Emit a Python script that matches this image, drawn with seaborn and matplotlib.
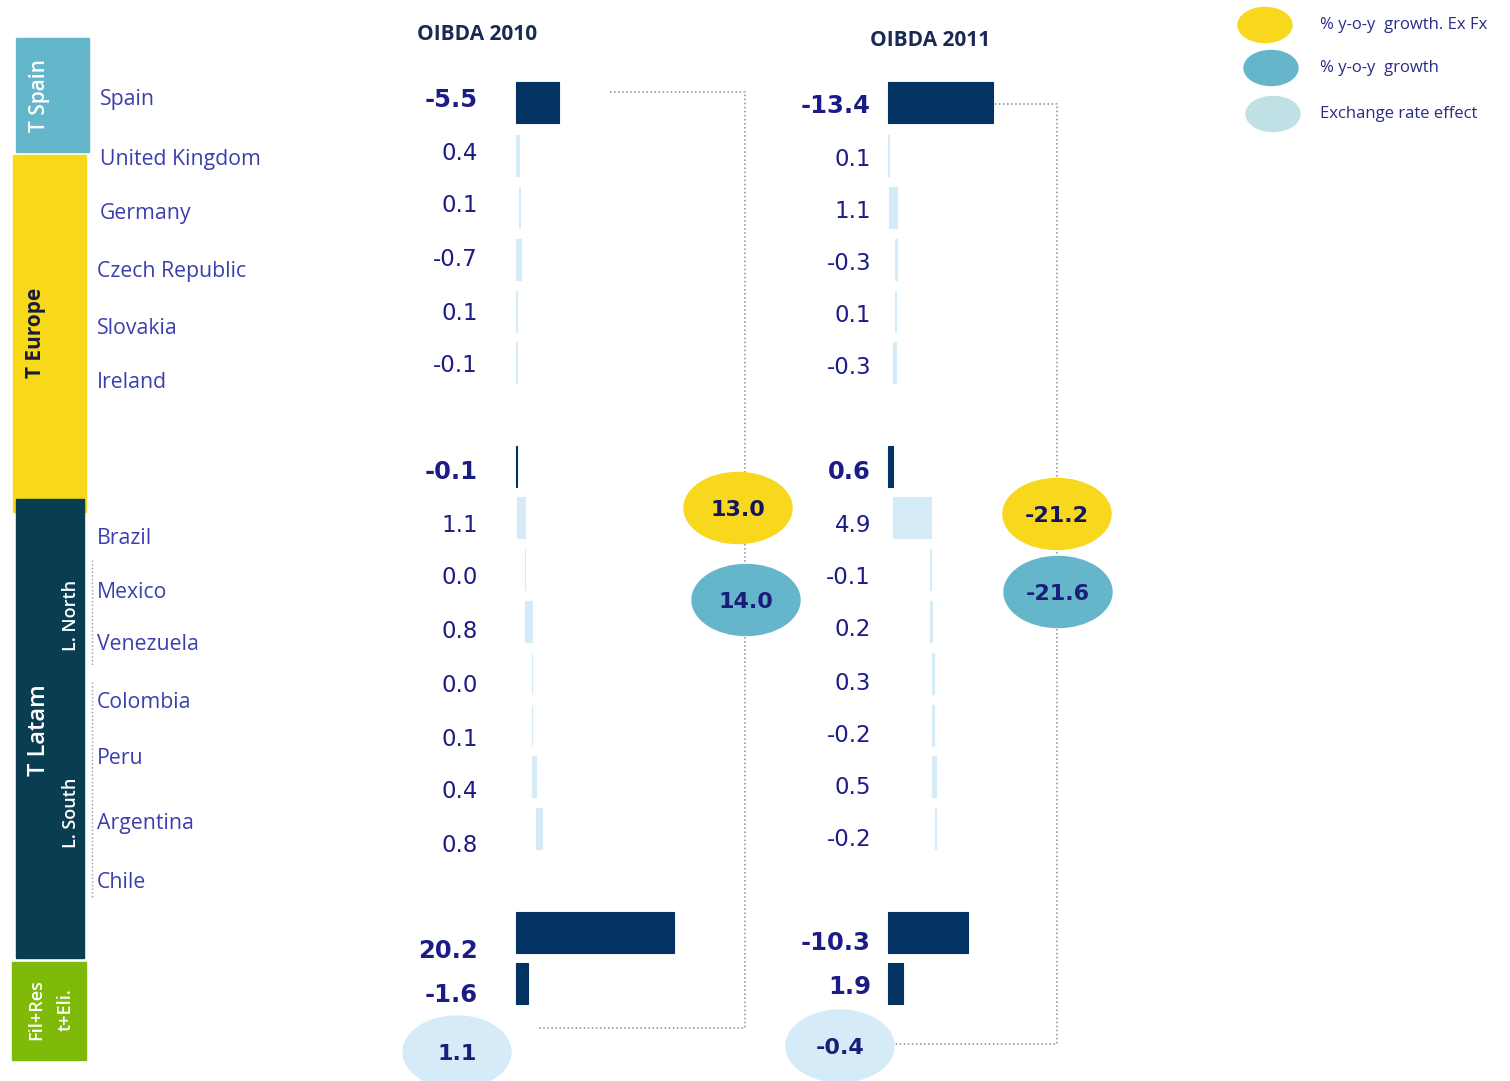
import seaborn as sns
import matplotlib.pyplot as plt
from matplotlib.patches import Ellipse, Rectangle

# --- data ---
rows = ['Spain', 'United Kingdom', 'Germany', 'Czech Republic', 'Slovakia', 'Ireland',
        'T Europe', 'Brazil', 'Mexico', 'Venezuela', 'Colombia', 'Peru', 'Argentina',
        'Chile', 'T Latam', 'Fil+Res t+Eli.']
kind = ['total', 'fx', 'fx', 'fx', 'fx', 'fx',
        'total', 'fx', 'fx', 'fx', 'fx', 'fx', 'fx',
        'fx', 'total', 'total']
oibda_2010 = [-5.5, 0.4, 0.1, -0.7, 0.1, -0.1, -0.1, 1.1, 0.0, 0.8, 0.0, 0.1, 0.4, 0.8, 20.2, -1.6]
oibda_2011 = [-13.4, 0.1, 1.1, -0.3, 0.1, -0.3, 0.6, 4.9, -0.1, 0.2, 0.3, -0.2, 0.5, -0.2, -10.3, 1.9]
years = ['OIBDA 2010', 'OIBDA 2011']
growth_exfx = [13.0, -21.2]
growth = [14.0, -21.6]
fx_effect = [1.1, -0.4]
country_labels = ['Spain', 'United Kingdom', 'Germany', 'Czech Republic', 'Slovakia', 'Ireland',
                  'Brazil', 'Mexico', 'Venezuela', 'Colombia', 'Peru', 'Argentina', 'Chile']
legend_labels = ['% y-o-y  growth. Ex Fx', '% y-o-y  growth', 'Exchange rate effect']

# --- layout (pixels) ---
W, H = 1510, 1081
PX_PER_UNIT = 7.8
row_y = [102, 155, 207, 259, 311, 362, 466, 517, 569, 621, 673, 725, 776, 828, 932, 983]
bar_h = 41
text_y = [[100, 153, 206, 260, 313, 366, 472, 525, 578, 632, 685, 739, 792, 845, 951, 995],
          [106, 159, 211, 263, 316, 368, 472, 525, 577, 630, 683, 735, 787, 839, 943, 987]]
bar_x0 = [516, 888]
text_x = [478, 871]
header_pos = [(477, 34), (930, 41)]
label_x = [100, 100, 100, 97, 97, 97, 97, 97, 97, 97, 97, 97, 97]
label_y = [100, 159, 213, 272, 328, 383, 539, 592, 644, 702, 758, 824, 882]
yellow_pos = [(738, 508), (1057, 514)]
blue_pos = [(746, 600), (1058, 592)]
fx_pos = [(457, 1052), (840, 1046)]
bracket = [dict(x=745, top=92, start=610, bottom=1028, end=537),
           dict(x=1057, top=104, start=922, bottom=1044, end=888)]

NAVY = '#033263'
LIGHT = '#d6ebf8'
YELLOW = '#f8d81c'
TEAL = '#65b5cb'
FXLEG = '#bfe1e6'
TXT = '#1c1c86'
LBL = '#3b3fae'

sns.set_theme(style='white')
plt.rcParams['font.family'] = ['DejaVu Sans']

fig = plt.figure(figsize=(W / 100, H / 100), dpi=100)
ax = fig.add_axes([0, 0, 1, 1])
ax.set_xlim(0, W)
ax.set_ylim(H, 0)
ax.axis('off')

# --- left side bands ---
bands = [(16, 38, 73, 114, '#64b6ca'), (13, 155, 73, 357, '#f8d91a'),
         (16, 499, 68, 459, '#083d52'), (12, 962, 74, 98, '#7fba0a')]
for x, y, w, h, c in bands:
    ax.add_patch(Rectangle((x, y), w, h, color=c, zorder=1))
ax.text(39, 95, 'T Spain', rotation=90, ha='center', va='center', color='white',
        fontsize=15, family='Open Sans', fontweight='semibold')
ax.text(36, 333, 'T Europe', rotation=90, ha='center', va='center', color='#1b1b3a',
        fontsize=15, family='Open Sans', fontweight='bold')
ax.text(39, 730, 'T Latam', rotation=90, ha='center', va='center', color='white',
        fontsize=17, family='Open Sans', fontweight='semibold')
ax.text(71, 615, 'L. North', rotation=90, ha='center', va='center', color='white',
        fontsize=13, family='Open Sans', fontweight='semibold')
ax.text(71, 813, 'L. South', rotation=90, ha='center', va='center', color='white',
        fontsize=13, family='Open Sans', fontweight='semibold')
ax.text(36, 1010, 'Fil+Res', rotation=90, ha='center', va='center', color='white',
        fontsize=13, family='Open Sans', fontweight='semibold')
ax.text(66, 1010, 't+Eli.', rotation=90, ha='center', va='center', color='white',
        fontsize=13, family='Open Sans', fontweight='semibold')
ax.plot([92, 92], [560, 665], ls=':', color='#9a9a9a', lw=1)
ax.plot([92, 92], [682, 898], ls=':', color='#9a9a9a', lw=1)

for name, x, y in zip(country_labels, label_x, label_y):
    ax.text(x, y, name, ha='left', va='center', color=LBL, fontsize=15.3, family='Open Sans')

# --- bracket lines behind the growth bubbles ---
for b in bracket:
    ax.plot([b['start'], b['x'], b['x'], b['end']], [b['top'], b['top'], b['bottom'], b['bottom']],
            ls=':', color='#8c8c8c', lw=1.1, zorder=2)

# --- waterfall bars per year (fx effects stack from the previous total, floored at 0) ---
for i, vals in enumerate([oibda_2010, oibda_2011]):
    bax = fig.add_axes([(bar_x0[i] - 4) / W, 0, 244 / W, 1])
    bax.set_xlim(-4 / PX_PER_UNIT, 240 / PX_PER_UNIT)
    bax.set_ylim(H, 0)
    bax.axis('off')
    bax.patch.set_alpha(0)
    cum = 0.0
    for j, (v, k, y) in enumerate(zip(vals, kind, row_y)):
        if k == 'total':
            bax.barh(y, abs(v), left=0, height=bar_h, color=NAVY, edgecolor=NAVY, lw=0.8)
            cum = 0.0 if j == 0 else abs(v)
        else:
            left = max(cum + min(v, 0), 0)
            bax.barh(y, abs(v), left=left, height=bar_h, color=LIGHT, edgecolor=LIGHT, lw=0.8)
            cum += v
    for v, k, y in zip(vals, kind, text_y[i]):
        bold = k == 'total'
        ax.text(text_x[i], y, f'{v:.1f}', ha='right', va='center', color=TXT,
                fontsize=17.5 if bold else 16.5, fontweight='bold' if bold else 'normal')
    ax.text(*header_pos[i], years[i], ha='center', va='center', color='#1b2a55',
            fontsize=15, family='Open Sans', fontweight='bold')

    # growth bubbles
    ax.add_patch(Ellipse(yellow_pos[i], 108, 71, color=YELLOW, zorder=3))
    ax.text(yellow_pos[i][0], yellow_pos[i][1] + 2, f'{growth_exfx[i]:.1f}', ha='center',
            va='center', color='#141460', fontsize=16, fontweight='bold', zorder=4)
    ax.add_patch(Ellipse(blue_pos[i], 108, 71, color=TEAL, zorder=3))
    ax.text(blue_pos[i][0], blue_pos[i][1] + 2, f'{growth[i]:.1f}', ha='center',
            va='center', color='#1c1c7a', fontsize=16, fontweight='bold', zorder=4)
    ax.add_patch(Ellipse(fx_pos[i], 108, 72, color=LIGHT, zorder=3))
    ax.text(fx_pos[i][0], fx_pos[i][1] + 2, f'{fx_effect[i]:.1f}', ha='center',
            va='center', color='#1c1c7a', fontsize=16, fontweight='bold', zorder=4)

# --- legend ---
leg_pos = [(1265, 25), (1271, 68), (1273, 114)]
for (x, y), c, lab in zip(leg_pos, [YELLOW, TEAL, FXLEG], legend_labels):
    ax.add_patch(Ellipse((x, y), 54, 35, color=c))
    ax.text(1320, y, lab, ha='left', va='center', color='#2a2a8a', fontsize=12, family='Open Sans')

fig.savefig('out.png', dpi=100)
